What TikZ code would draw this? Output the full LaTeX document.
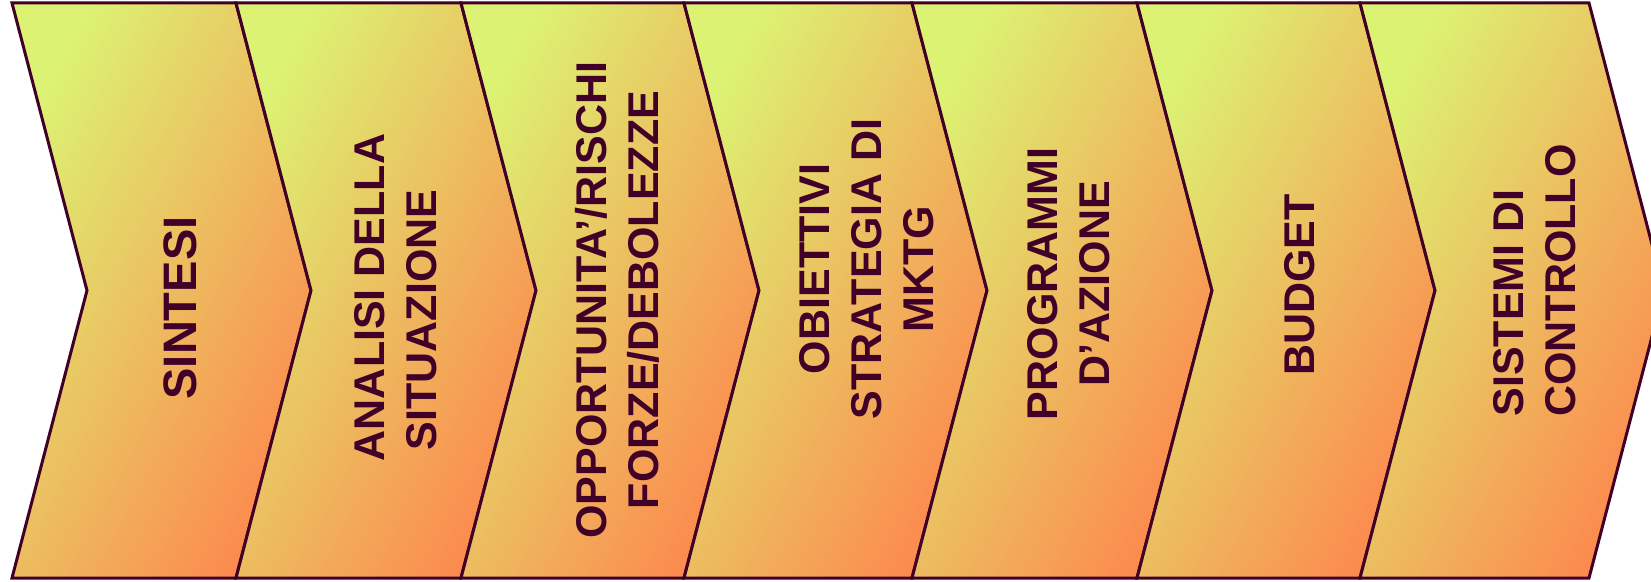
\documentclass[tikz,border=0pt]{standalone}
\usepackage{fontspec}
\setmainfont{Liberation Sans}
\usepackage{tikz}

\definecolor{chevline}{RGB}{64,0,40}
\definecolor{chevtop}{RGB}{220,242,114}
\definecolor{chevmid}{RGB}{234,200,102}
\definecolor{chevbot}{RGB}{252,138,78}

\begin{document}
\begin{tikzpicture}[x=1pt, y=1pt,
    chevron/.style ={draw=chevline, line width=3pt, line join=miter,
        top color=chevtop, middle color=chevmid, bottom color=chevbot, shading angle=62},
    label/.style ={rotate=90, align=center, text=chevline, inner sep=0pt,
        font=\bfseries\fontsize{43}{52}\selectfont}]
   \useasboundingbox (0,0) rectangle (1651,581);
   \clip (0,0) rectangle (1651,581);
   \draw[chevron] (12,3)   -- ++(75,287.5) -- ++(-75,287.5) -- ++(224,0) -- ++(75,-287.5) -- ++(-75,-287.5) -- cycle;
   \draw[chevron] (236,3)  -- ++(75,287.5) -- ++(-75,287.5) -- ++(225,0) -- ++(75,-287.5) -- ++(-75,-287.5) -- cycle;
   \draw[chevron] (461,3)  -- ++(75,287.5) -- ++(-75,287.5) -- ++(223,0) -- ++(75,-287.5) -- ++(-75,-287.5) -- cycle;
   \draw[chevron] (684,3)  -- ++(75,287.5) -- ++(-75,287.5) -- ++(228,0) -- ++(75,-287.5) -- ++(-75,-287.5) -- cycle;
   \draw[chevron] (912,3)  -- ++(75,287.5) -- ++(-75,287.5) -- ++(225,0) -- ++(75,-287.5) -- ++(-75,-287.5) -- cycle;
   \draw[chevron] (1137,3) -- ++(75,287.5) -- ++(-75,287.5) -- ++(223,0) -- ++(75,-287.5) -- ++(-75,-287.5) -- cycle;
   \draw[chevron] (1360,3) -- ++(75,287.5) -- ++(-75,287.5) -- ++(229,0) -- ++(75,-287.5) -- ++(-75,-287.5) -- cycle;
   \node[label, font=\bfseries\fontsize{47}{52}\selectfont] (sintesi) at (180,273) {SINTESI};
   \node[label] (analisi)   at (396,283.5) {ANALISI DELLA\\SITUAZIONE\hspace*{45pt}};
   \node[label] (swot)      at (617,281)   {OPPORTUNITA’/RISCHI\\FORZE/DEBOLEZZE};
   \node[label] (obiettivi) at (867,312)   {OBIETTIVI\\STRATEGIA DI\\MKTG};
   \node[label] (programmi) at (1069,297)  {PROGRAMMI\\D’AZIONE};
   \node[label] (budget)    at (1300,296)  {BUDGET};
   \node[label] (controllo) at (1535,300.5) {SISTEMI DI\hspace*{45pt}\\CONTROLLO};
\end{tikzpicture}
\end{document}
